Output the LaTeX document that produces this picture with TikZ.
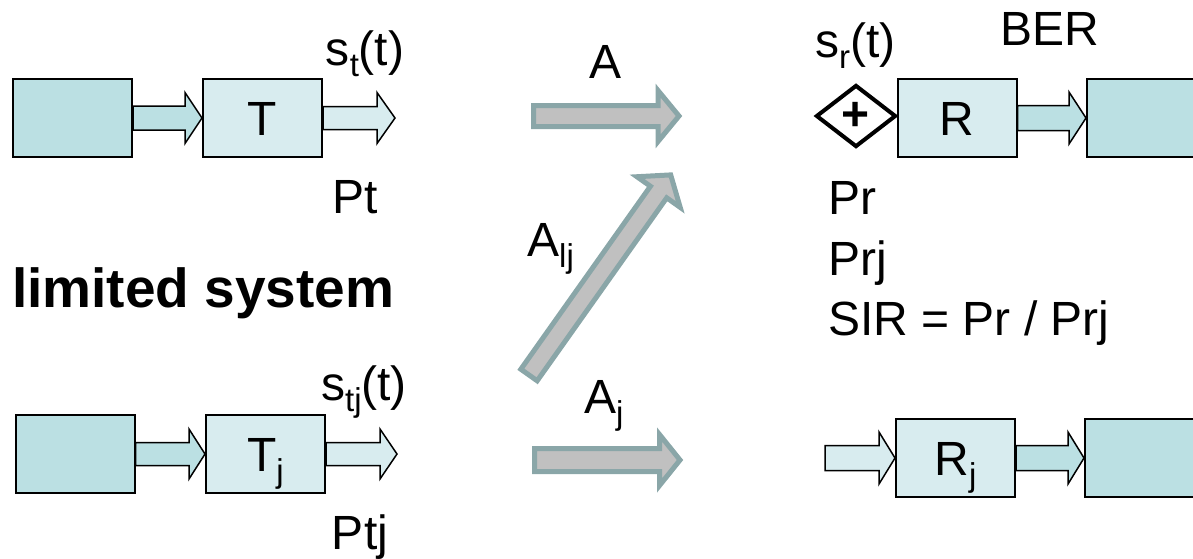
\documentclass[tikz,border=0pt]{standalone}
\usepackage{fontspec}
\setmainfont{Liberation Sans}
\usetikzlibrary{calc,shapes.geometric}
\definecolor{boxdark}{RGB}{187,224,227}
\definecolor{boxlight}{RGB}{216,236,239}
\definecolor{grayfill}{RGB}{192,192,192}
\definecolor{grayedge}{RGB}{138,166,168}
\newcommand\subx[1]{\raisebox{-11pt}{\fontsize{33}{33}\selectfont #1}}
% block arrow: #1 style, #2 tail, #3 tip, #4 shaft half width, #5 head half width, #6 head length
\newcommand\barrow[6]{%
  \coordinate (ba-h) at ($(#3)!#6!(#2)$);
  \path[#1] ($(#2)!#4!90:(#3)$) -- ($(ba-h)!#4!90:(#3)$) -- ($(ba-h)!#5!90:(#3)$) -- (#3)
    -- ($(ba-h)!#5!-90:(#3)$) -- ($(ba-h)!#4!-90:(#3)$) -- ($(#2)!#4!-90:(#3)$) -- cycle;}
\begin{document}
\begin{tikzpicture}[x=1pt,y=-1pt,font={\fontsize{48}{58}\selectfont},
  box/.style={draw=black, line width=2pt, minimum width=119pt, minimum height=78pt,
    inner sep=0pt, text height=34pt, text depth=0pt},
  darkbox/.style={box, fill=boxdark},
  lightbox/.style={box, fill=boxlight},
  lbl/.style={inner sep=0pt, anchor=base},
  lblw/.style={inner sep=0pt, anchor=base west},
  blkdark/.style={draw=black, line width=1.5pt, line join=miter, fill=boxdark},
  blklight/.style={draw=black, line width=1.5pt, line join=miter, fill=boxlight},
  garrow/.style={draw=grayedge, fill=grayfill, line width=5pt, line join=miter}]
\clip (0,0) rectangle (1193,558);
\useasboundingbox (0,0) rectangle (1193,558);

% ---- top transmitter row
\node[darkbox] (src1) at (72.5,118) {};
\node[lightbox] (T) at (262.5,118) {T};
\coordinate (tout) at (395,118);
\barrow{blkdark}{src1.east}{T.west}{12pt}{25.5pt}{17pt}
\barrow{blklight}{T.east}{tout}{11.5pt}{25.5pt}{18pt}
\node[lbl] (st) at (365,65) {s\subx{t}(t)};
\node[lbl] (pt) at (355,213) {Pt};

% ---- bottom transmitter row
\node[darkbox] (src2) at (75,454) {};
\node[lightbox] (Tj) at (265.5,454) {T\subx{j}};
\coordinate (tjout) at (397,454);
\barrow{blkdark}{src2.east}{Tj.west}{11.5pt}{25pt}{16pt}
\barrow{blklight}{Tj.east}{tjout}{11.5pt}{25pt}{17pt}
\node[lbl] (stj) at (364,400) {s\subx{tj}(t)};
\node[lbl] (ptj) at (360,549) {Ptj};

% ---- limited system
\node[lblw, font={\fontsize{55}{66}\selectfont\bfseries}] (lim) at (12,307) {limited system};

% ---- channel arrows
\coordinate (atail) at (533.5,116);
\coordinate (atip) at (679,116);
\barrow{garrow}{atail}{atip}{10.5pt}{25.5pt}{21pt}
\node[lbl] (alab) at (605,78) {A};

\coordinate (ajtail) at (534.5,460);
\coordinate (ajtip) at (680,460);
\barrow{garrow}{ajtail}{ajtip}{11.5pt}{25.5pt}{20.5pt}
\node[lblw] (ajlab) at (584,413) {A\subx{j}};

\coordinate (aljtail) at (529,375);
\coordinate (aljtip) at (670.7,174.9);
\barrow{garrow}{aljtail}{aljtip}{10pt}{26.5pt}{21pt}
\node[lblw] (aljlab) at (527,256) {A\subx{lj}};

% ---- receiver top row
\node[lightbox] (R) at (957,118) {R};
\node[darkbox, minimum width=125pt] (dst1) at (1149.5,118) {};
\node[draw=black, line width=4pt, shape=diamond, minimum width=80pt, minimum height=62pt,
  inner sep=0pt, fill=white, font={\fontsize{48}{58}\selectfont\bfseries}] (sum) at (856,116) {+};
\barrow{blkdark}{R.east}{dst1.west}{12.5pt}{26pt}{17pt}
\node[lblw] (sr) at (815,57) {s\subx{r}(t)};
\node[lblw] (ber) at (1000,45) {BER};
\node[lblw] (pr) at (828,214) {Pr};
\node[lblw] (prj) at (828,275) {Prj};
\node[lblw] (sir) at (828,335) {SIR = Pr / Prj};

% ---- receiver bottom row
\node[lightbox] (Rj) at (955.5,458) {R\subx{j}};
\node[darkbox, minimum width=125pt] (dst2) at (1147.5,458) {};
\coordinate (rjin) at (825,458);
\barrow{blklight}{rjin}{Rj.west}{12.5pt}{26pt}{16pt}
\barrow{blkdark}{Rj.east}{dst2.west}{12.5pt}{26pt}{16pt}
\end{tikzpicture}
\end{document}
